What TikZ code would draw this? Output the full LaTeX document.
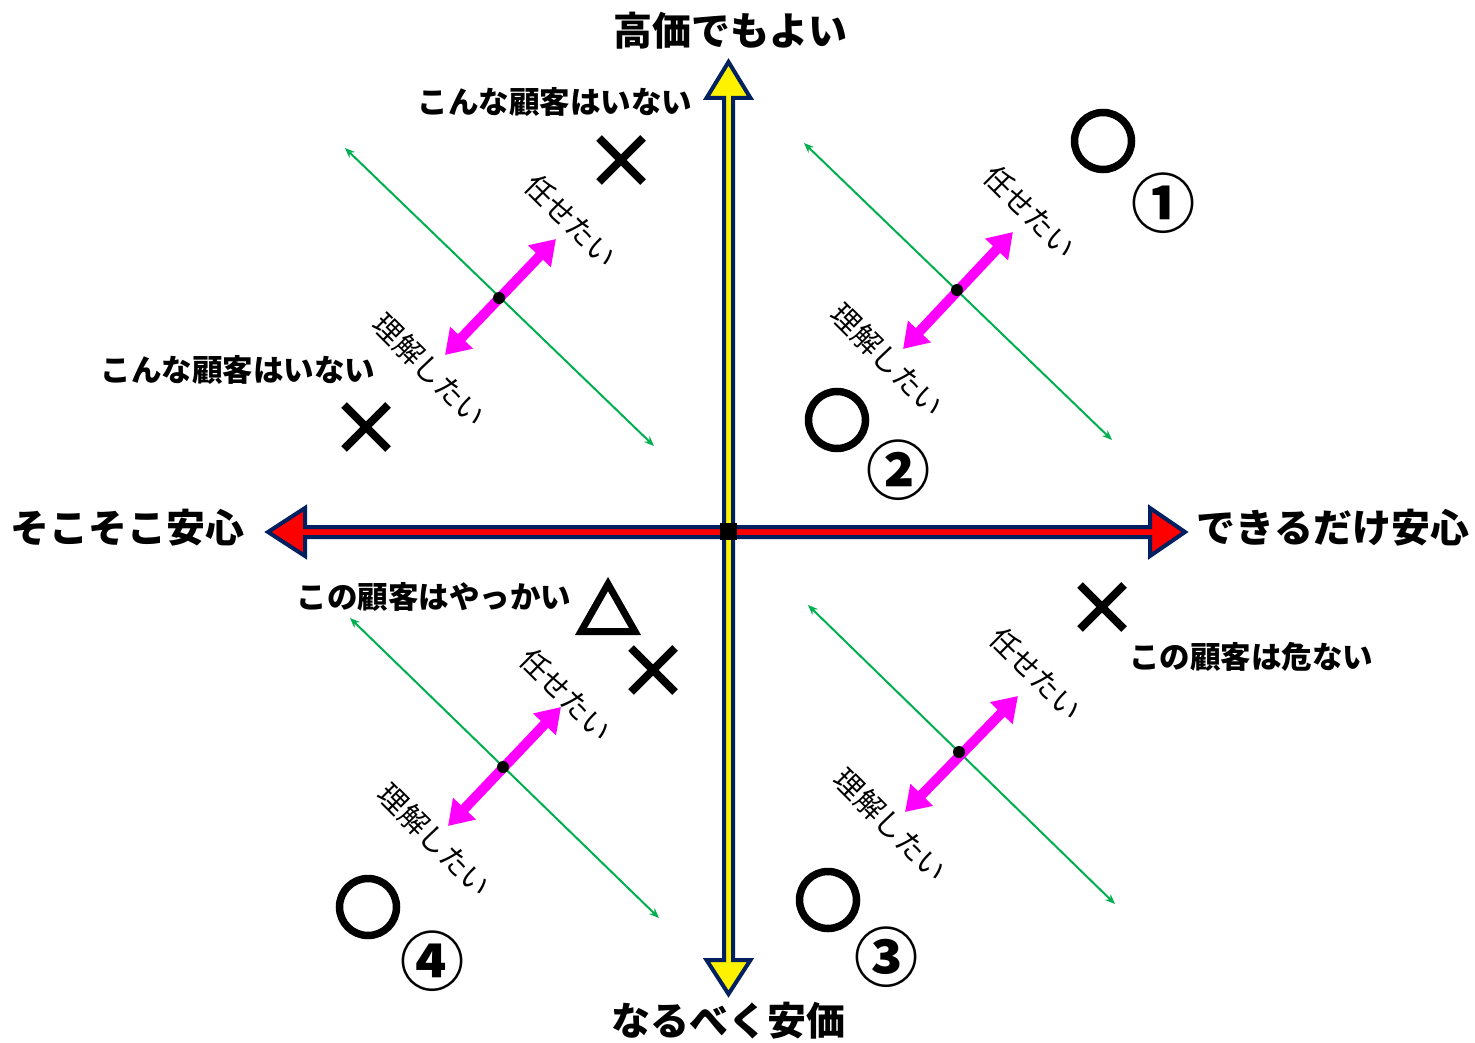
\documentclass[tikz,border=0pt]{standalone}
\usepackage{fontspec}
\newfontfamily\jp{Noto Sans CJK JP}
\usetikzlibrary{arrows.meta,calc}
\definecolor{navy}{HTML}{002060}
\definecolor{gr}{HTML}{00B050}
\definecolor{mag}{HTML}{FF00FF}
\tikzset{
  biglab/.style={font=\jp\bfseries\fontsize{39}{42}\selectfont, inner sep=0pt},
  midlab/.style={font=\jp\bfseries\fontsize{30.5}{33}\selectfont, inner sep=0pt},
  rotlab/.style={font=\jp\fontsize{29}{31}\selectfont, inner sep=0pt, rotate=-45},
  numlab/.style={font=\jp\bfseries\fontsize{64}{66}\selectfont, inner sep=0pt},
  axisbox/.style={draw=navy, line width=4pt, line join=miter},
  greenarr/.style={gr, line width=2pt, {Stealth[length=10pt,width=8pt]}-{Stealth[length=10pt,width=8pt]}},
  pinkarr/.style={mag, line width=10pt, {Triangle[length=24pt,width=30pt]}-{Triangle[length=24pt,width=30pt]}},
  okmark/.style={draw, line width=7.5pt, circle, minimum size=57pt, inner sep=0pt},
  ngmark/.style={line width=8pt},
  cdot/.style={fill=black, circle, minimum size=12pt, inner sep=0pt}
}
\begin{document}
\begin{tikzpicture}[x=1pt,y=-1pt]
\useasboundingbox (0,0) rectangle (1475,1043);
\fill[white] (0,0) rectangle (1475,1043);

% horizontal axis
\draw[axisbox, fill=red] (268,532) -- (305,508) -- (305,527) -- (1150,527) -- (1150,508) -- (1185,532) -- (1150,556) -- (1150,537) -- (305,537) -- (305,556) -- cycle;
% vertical axis
\draw[axisbox, fill=yellow] (728.5,62) -- (750.5,98) -- (733,98) -- (733,960) -- (750.5,960) -- (728.5,994) -- (706.5,960) -- (724,960) -- (724,98) -- (706.5,98) -- cycle;
\fill[black] (720,523) rectangle (737,540);

% axis labels
\node[biglab] (top) at (730,31) {高価でもよい};
\node[biglab] (bottom) at (728,1021) {なるべく安価};
\node[biglab] (left) at (127,528) {そこそこ安心};
\node[biglab] (right) at (1333,528) {できるだけ安心};

% green lines
\coordinate (g1a) at (345,148); \coordinate (g1b) at (654,446);
\coordinate (g2a) at (804,143); \coordinate (g2b) at (1112,440);
\coordinate (g3a) at (350,618); \coordinate (g3b) at (659,918);
\coordinate (g4a) at (808,605); \coordinate (g4b) at (1115,904);
\draw[greenarr] (g1a) -- (g1b);
\draw[greenarr] (g2a) -- (g2b);
\draw[greenarr] (g3a) -- (g3b);
\draw[greenarr] (g4a) -- (g4b);

% pink arrows
\coordinate (p1a) at (445,355); \coordinate (p1b) at (556,239);
\coordinate (p2a) at (903,349); \coordinate (p2b) at (1013,232);
\coordinate (p3a) at (448,826); \coordinate (p3b) at (561,707);
\coordinate (p4a) at (905,812); \coordinate (p4b) at (1018,696);
\draw[pinkarr] (p1a) -- (p1b);
\draw[pinkarr] (p2a) -- (p2b);
\draw[pinkarr] (p3a) -- (p3b);
\draw[pinkarr] (p4a) -- (p4b);
\node[cdot] (d1) at (499,298) {};
\node[cdot] (d2) at (957,290) {};
\node[cdot] (d3) at (503,767) {};
\node[cdot] (d4) at (959,752) {};

% rotated labels
\node[rotlab] (m1) at (571,221) {任せたい};
\node[rotlab] (r1) at (430,370) {理解したい};
\node[rotlab] (m2) at (1030,212) {任せたい};
\node[rotlab] (r2) at (888,360) {理解したい};
\node[rotlab] (m3) at (566,695) {任せたい};
\node[rotlab] (r3) at (435,840) {理解したい};
\node[rotlab] (m4) at (1036,674) {任せたい};
\node[rotlab] (r4) at (891,825) {理解したい};

% customer labels
\node[midlab] (c1) at (555,102) {こんな顧客はいない};
\node[midlab] (c2) at (238,370) {こんな顧客はいない};
\node[midlab] (c3) at (434,597) {この顧客はやっかい};
\node[midlab] (c4) at (1251,657) {この顧客は危ない};

% O marks
\node[okmark] (o1) at (1103,141) {};
\node[okmark] (o2) at (837,420) {};
\node[okmark] (o3) at (828,900) {};
\node[okmark] (o4) at (368,907) {};

% numbers
\node[numlab] (n1) at (1163,203) {①};
\node[numlab] (n2) at (898,470) {②};
\node[numlab] (n3) at (886,957) {③};
\node[numlab] (n4) at (432,961) {④};

% X marks
\foreach \n/\cx/\cy in {x1/621/160, x2/366/427, x3/653/670, x4/1102/607}{
  \coordinate (\n) at (\cx,\cy);
  \draw[ngmark] ($(\n)+(-22,-22)$) -- ($(\n)+(22,22)$);
  \draw[ngmark] ($(\n)+(22,-22)$) -- ($(\n)+(-22,22)$);
}
% triangle
\coordinate (t1) at (608,584);
\coordinate (t2) at (581,631.5);
\coordinate (t3) at (635,631.5);
\draw[line width=7pt, line join=miter] (t1) -- (t2) -- (t3) -- cycle;
\end{tikzpicture}
\end{document}
